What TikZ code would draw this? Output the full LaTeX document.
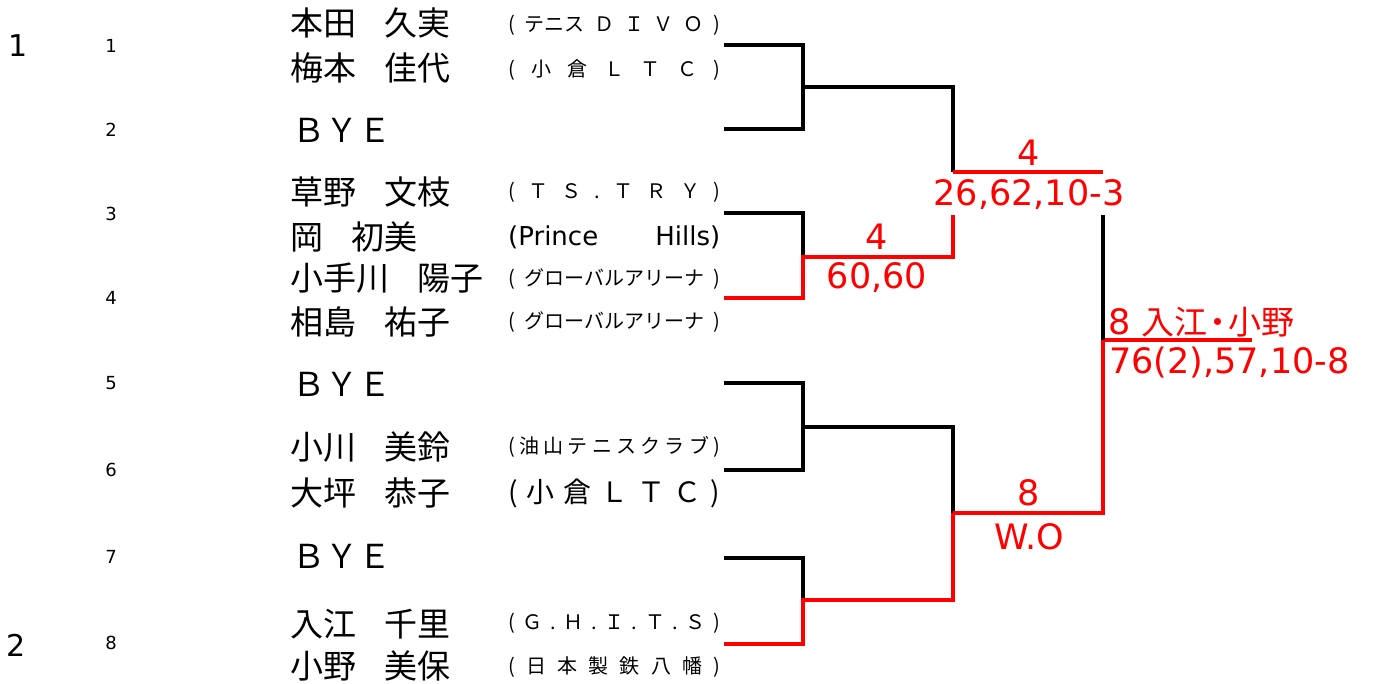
\documentclass[tikz,border=0pt]{standalone}
\usepackage{fontspec}
\setmainfont{Noto Sans CJK JP}
\newfontfamily\jp{Noto Sans CJK JP}
\newfontfamily\dv{DejaVu Sans}
\newcommand\clubbox[1]{\makebox[212pt][s]{#1}}
\begin{document}
\begin{tikzpicture}[x=1pt,y=-1pt,
  blk/.style={draw=black,line width=3.2pt,line join=miter},
  rd/.style={draw=red,line width=3.2pt,line join=miter},
  namelbl/.style={anchor=west,inner sep=0pt,font=\jp\fontsize{33}{36}\selectfont},
  clublbl/.style={anchor=west,inner sep=0pt},
  seedlbl/.style={inner sep=0pt,font=\dv\fontsize{18}{20}\selectfont},
  bigseed/.style={anchor=west,inner sep=0pt,font=\dv\fontsize{30}{32}\selectfont},
  score/.style={inner sep=0pt,text=red,font=\dv\fontsize{35}{38}\selectfont}]
\useasboundingbox[fill=white] (0,0) rectangle (1376,684);

% seeds
\node[bigseed] (s1) at (8,46) {1};
\node[bigseed] (s2) at (6,645) {2};
\node[seedlbl] (n1) at (111,46) {1};
\node[seedlbl] (n2) at (111,130) {2};
\node[seedlbl] (n3) at (111,214) {3};
\node[seedlbl] (n4) at (111,298) {4};
\node[seedlbl] (n5) at (111,383) {5};
\node[seedlbl] (n6) at (111,470) {6};
\node[seedlbl] (n7) at (111,557) {7};
\node[seedlbl] (n8) at (111,643) {8};

% names
\node[namelbl] (p1a) at (290,23) {本田\kern-5pt　久実};
\node[namelbl] (p1b) at (290,68) {梅本\kern-5pt　佳代};
\node[namelbl] (p2) at (292,130) {ＢＹＥ};
\node[namelbl] (p3a) at (290,192) {草野\kern-5pt　文枝};
\node[namelbl] (p3b) at (290,237) {岡\kern-5pt　初美};
\node[namelbl] (p4a) at (290,278) {小手川\kern-5pt　陽子};
\node[namelbl] (p4b) at (290,322) {相島\kern-5pt　祐子};
\node[namelbl] (p5) at (292,384) {ＢＹＥ};
\node[namelbl] (p6a) at (290,447) {小川\kern-5pt　美鈴};
\node[namelbl] (p6b) at (290,493) {大坪\kern-5pt　恭子};
\node[namelbl] (p7) at (292,556) {ＢＹＥ};
\node[namelbl] (p8a) at (290,624) {入江\kern-5pt　千里};
\node[namelbl] (p8b) at (290,666) {小野\kern-5pt　美保};

% clubs
\node[clublbl,font=\jp\fontsize{20}{22}\selectfont] (c1a) at (508,25) {\clubbox{(\hfill テニス\hfill Ｄ\hfill Ｉ\hfill Ｖ\hfill Ｏ\hfill )}};
\node[clublbl,font=\jp\fontsize{20}{22}\selectfont] (c1b) at (508,70) {\clubbox{(\hfill 小\hfill 倉\hfill Ｌ\hfill Ｔ\hfill Ｃ\hfill )}};
\node[clublbl,font=\jp\fontsize{20}{22}\selectfont] (c3a) at (508,192) {\clubbox{(\hfill Ｔ\hfill Ｓ\hfill .\hfill Ｔ\hfill Ｒ\hfill Ｙ\hfill )}};
\node[clublbl,font=\dv\fontsize{26}{28}\selectfont] (c3b) at (508,237) {\clubbox{(Prince\hfill Hills)}};
\node[clublbl,font=\jp\fontsize{20}{22}\selectfont] (c4a) at (508,279) {\clubbox{(\hfill グローバルアリーナ\hfill )}};
\node[clublbl,font=\jp\fontsize{20}{22}\selectfont] (c4b) at (508,322) {\clubbox{(\hfill グローバルアリーナ\hfill )}};
\node[clublbl,font=\jp\fontsize{20}{22}\selectfont] (c6a) at (508,447) {\clubbox{(\hfill 油\hfill 山\hfill テ\hfill ニ\hfill ス\hfill ク\hfill ラ\hfill ブ\hfill )}};
\node[clublbl,font=\jp\fontsize{28}{30}\selectfont] (c6b) at (508,493) {\clubbox{(\hfill 小\hfill 倉\hfill Ｌ\hfill Ｔ\hfill Ｃ\hfill )}};
\node[clublbl,font=\jp\fontsize{20}{22}\selectfont] (c8a) at (508,623) {\clubbox{(\hfill Ｇ\hfill .\hfill Ｈ\hfill .\hfill Ｉ\hfill .\hfill Ｔ\hfill .\hfill Ｓ\hfill )}};
\node[clublbl,font=\jp\fontsize{20}{22}\selectfont] (c8b) at (508,667) {\clubbox{(\hfill 日\hfill 本\hfill 製\hfill 鉄\hfill 八\hfill 幡\hfill )}};

% bracket coordinates
\coordinate (e1) at (724,45);  \coordinate (a1) at (803,45);
\coordinate (e2) at (724,129); \coordinate (a2) at (803,129);
\coordinate (e3) at (724,213); \coordinate (a3) at (803,213);
\coordinate (e4) at (724,298); \coordinate (a4) at (803,298);
\coordinate (e5) at (724,383); \coordinate (a5) at (803,383);
\coordinate (e6) at (724,470); \coordinate (a6) at (803,470);
\coordinate (e7) at (724,558); \coordinate (a7) at (803,558);
\coordinate (e8) at (724,644); \coordinate (a8) at (803,644);
\coordinate (m1) at (803,87);  \coordinate (b1) at (953,87);
\coordinate (b1d) at (953,172); \coordinate (w1) at (1103,172);
\coordinate (m2) at (803,257); \coordinate (b2) at (953,257);
\coordinate (b2u) at (953,215);
\coordinate (m3) at (803,427); \coordinate (c3) at (953,427);
\coordinate (m4) at (803,600); \coordinate (c4) at (953,600);
\coordinate (b3) at (953,513);
\coordinate (f1) at (1103,215); \coordinate (f2) at (1103,340);
\coordinate (f3) at (1252,340); \coordinate (f4) at (1103,513);

% round 1
\draw[blk] (e1) -- (a1) -- (a2) -- (e2);
\draw[blk] (e3) -- (a3) -- (m2);
\draw[rd] (e4) -- (a4) -- (m2) -- (b2) -- (b2u);
\draw[blk] (e5) -- (a5) -- (a6) -- (e6);
\draw[blk] (e7) -- (a7) -- (m4);
\draw[rd] (e8) -- (a8) -- (m4) -- (c4) -- (b3);
% round 2
\draw[blk] (m1) -- (b1) -- (b1d);
\draw[rd] (b1d) -- (w1);
\draw[blk] (m3) -- (c3) -- (b3);
\draw[rd] (b3) -- (f4) -- (f2) -- (f3);
\draw[blk] (f1) -- (f2);

% scores
\node[score] (r1w) at (1029,153) {4};
\node[score] (r1s) at (1029,195) {26,62,10-3};
\node[score] (r2w) at (877,237) {4};
\node[score] (r2s) at (877,278) {60,60};
\node[score] (r3w) at (1029,493) {8};
\node[score] (r3s) at (1029,537) {W.O};
\node[score,anchor=west] (fw) at (1108,322) {8 {\jp\fontsize{33}{36}\selectfont 入江\kern-6pt・\kern-6pt小野}};
\node[score,anchor=west] (fs) at (1109,363) {76(2),57,10-8};
\end{tikzpicture}
\end{document}
